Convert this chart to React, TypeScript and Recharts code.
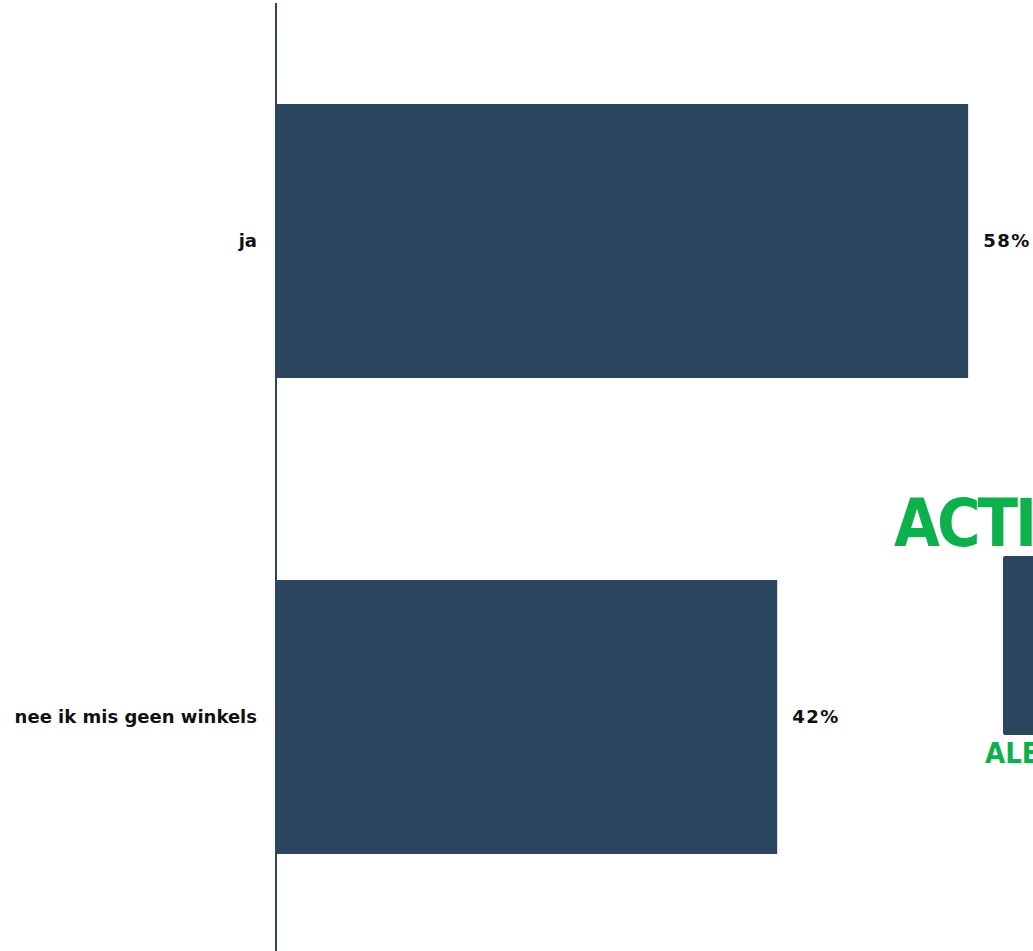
import React from 'react';
import {
  BarChart,
  Bar,
  XAxis,
  YAxis,
  LabelList,
} from 'recharts';

const categories = ['ja', 'nee ik mis geen winkels'];
const shares = [0.58, 0.42];

const BAR_COLOR = '#2c4660';
const LOGO_GREEN = '#0db14b';

const data = categories.map((name, i) => ({ name, value: shares[i] }));

const formatPct = (v: number) => `${Math.round(v * 100)}%`;

const CategoryTick = (props: any) => {
  const { x, y, payload } = props;
  return (
    <text
      x={x + 6}
      y={y}
      dy={6}
      textAnchor='end'
      fontFamily='"DejaVu Sans", Verdana, sans-serif'
      fontWeight='bold'
      fontSize={18}
      fill='#111'
    >
      {payload.value}
    </text>
  );
};

const Logo = () => (
  <div style={{ position: 'absolute', left: 0, top: 0, width: 1033, height: 951, pointerEvents: 'none' }}>
    <div
      style={{
        position: 'absolute',
        left: 894,
        top: 484,
        fontFamily: '"DejaVu Sans Condensed", "DejaVu Sans", sans-serif',
        fontWeight: 'bold',
        fontSize: 66,
        letterSpacing: -3,
        lineHeight: '80px',
        color: LOGO_GREEN,
        whiteSpace: 'nowrap',
      }}
    >
      ACTIEF
    </div>
    <div
      style={{
        position: 'absolute',
        left: 1003,
        top: 556,
        width: 60,
        height: 179,
        background: BAR_COLOR,
        borderRadius: 2,
      }}
    />
    <div
      style={{
        position: 'absolute',
        left: 985,
        top: 735,
        fontFamily: '"DejaVu Sans Condensed", "DejaVu Sans", sans-serif',
        fontWeight: 'bold',
        fontSize: 29,
        lineHeight: '36px',
        color: LOGO_GREEN,
        whiteSpace: 'nowrap',
      }}
    >
      ALERT
    </div>
  </div>
);

export default function App() {
  return (
    <div
      style={{
        position: 'fixed',
        left: 0,
        top: 0,
        width: 1033,
        height: 951,
        overflow: 'hidden',
        background: '#fff',
      }}
    >
      <Logo />
      <div style={{ position: 'absolute', left: 0, top: 0 }}>
        <BarChart
          width={1100}
          height={955}
          data={data}
          layout='vertical'
          margin={{ top: 3, right: 108, bottom: 0, left: 0 }}
          barCategoryGap={101}
        >
          <XAxis type='number' domain={[0, 0.6]} hide />
          <YAxis
            type='category'
            dataKey='name'
            width={276}
            axisLine={{ stroke: BAR_COLOR, strokeWidth: 2 }}
            tickLine={false}
            tickMargin={19}
            tick={<CategoryTick />}
          />
          <Bar dataKey='value' fill={BAR_COLOR} isAnimationActive={false}>
            <LabelList
              dataKey='value'
              position='right'
              offset={15}
              formatter={(v: any) => formatPct(Number(v))}
              style={{
                fontFamily: '"DejaVu Sans", Verdana, sans-serif',
                fontWeight: 'bold',
                fontSize: 18,
                letterSpacing: 1.5,
                fill: '#111',
              }}
            />
          </Bar>
        </BarChart>
      </div>
    </div>
  );
}
